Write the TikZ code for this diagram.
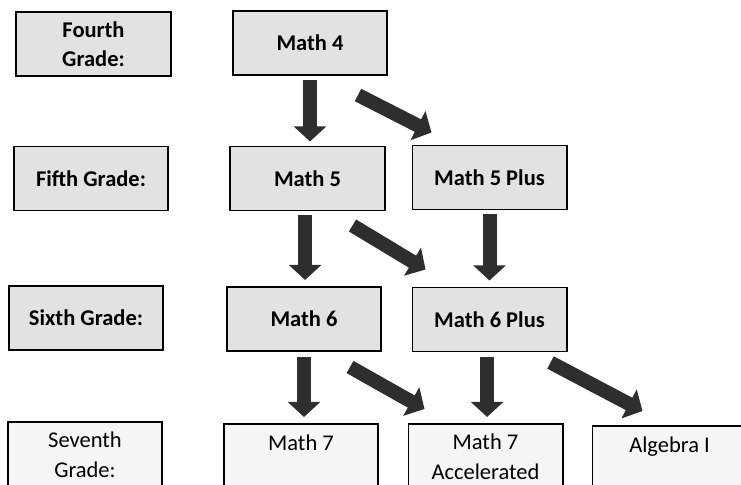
\documentclass[tikz,border=0pt]{standalone}
\usepackage{fontspec}
\setmainfont{Carlito}
\usetikzlibrary{arrows.meta}
\definecolor{gsFill}{HTML}{E2E2E2}
\definecolor{gsFillLight}{HTML}{F5F5F5}
\definecolor{gsArrow}{HTML}{2E2E2E}
\tikzset{
  gs-box/.style={
    rectangle, draw=black, line width=1.4pt, fill=gsFill,
    minimum width=3.85cm, minimum height=1.6cm, align=center,
    inner sep=2pt, font=\fontsize{16}{21}\selectfont\bfseries
  },
  gs-low/.style={
    gs-box, fill=gsFillLight, minimum height=1.65cm,
    font=\fontsize{16}{21}\selectfont
  },
  gs-arrow/.style={
    draw=gsArrow, line width=0.35cm,
    -{Triangle[width=0.8cm,length=0.38cm]}
  },
}
\begin{document}
\begin{tikzpicture}[x=0.025cm, y=-0.025cm]
  \clip (0,0) rectangle (741,485);
  \fill[white] (0,0) rectangle (741,485);

  \node[gs-box] (g4)  at (93.5,44)    {Fourth\\Grade:};
  \node[gs-box] (m4)  at (310,43)     {Math 4};
  \node[gs-box] (g5)  at (91,178.5)   {Fifth Grade:};
  \node[gs-box] (m5)  at (307.5,178.5){Math 5};
  \node[gs-box] (m5p) at (489.5,177.5){Math 5 Plus};
  \node[gs-box] (g6)  at (86,318)     {Sixth Grade:};
  \node[gs-box] (m6)  at (304,319)    {Math 6};
  \node[gs-box] (m6p) at (489.5,319.5){Math 6 Plus};
  \node[gs-low] (g7)  at (85,455)     {Seventh\\Grade:};
  \node[gs-low] (m7)  at (301,457)    {Math 7\\\mbox{}};
  \node[gs-low] (m7a) at (485.5,457)  {Math 7\\Accelerated};
  \node[gs-low] (alg) at (669.5,459)  {Algebra I\\\mbox{}};

  \draw[gs-arrow, shorten <=0.1cm, shorten >=0.1cm] (m4.south) -- (m4.south |- m5.north);
  \draw[gs-arrow] ([shift={(-30,19)}]m4.south east) -- ([shift={(20,-12)}]m5p.north west);
  \draw[gs-arrow, shorten <=0.1cm, shorten >=0.15cm] ([xshift=-0.06cm]m5.south) -- ([xshift=-0.06cm]m5.south |- m6.north);
  \draw[gs-arrow] ([shift={(-33,14)}]m5.south east) -- ([shift={(14,-17)}]m6p.north west);
  \draw[gs-arrow, shorten <=0.1cm, shorten >=0.15cm] (m5p.south) -- (m5p.south |- m6p.north);
  \draw[gs-arrow, shorten <=0.12cm, shorten >=0.15cm] (m6.south) -- (m6.south |- m7.north);
  \draw[gs-arrow] ([shift={(-32,15)}]m6.south east) -- ([shift={(17,-14)}]m7a.north west);
  \draw[gs-arrow, shorten <=0.12cm, shorten >=0.15cm] ([xshift=-0.06cm]m6p.south) -- ([xshift=-0.06cm]m6p.south |- m7a.north);
  \draw[gs-arrow] ([shift={(-17,10)}]m6p.south east) -- ([shift={(51,-14)}]alg.north west);
\end{tikzpicture}
\end{document}
